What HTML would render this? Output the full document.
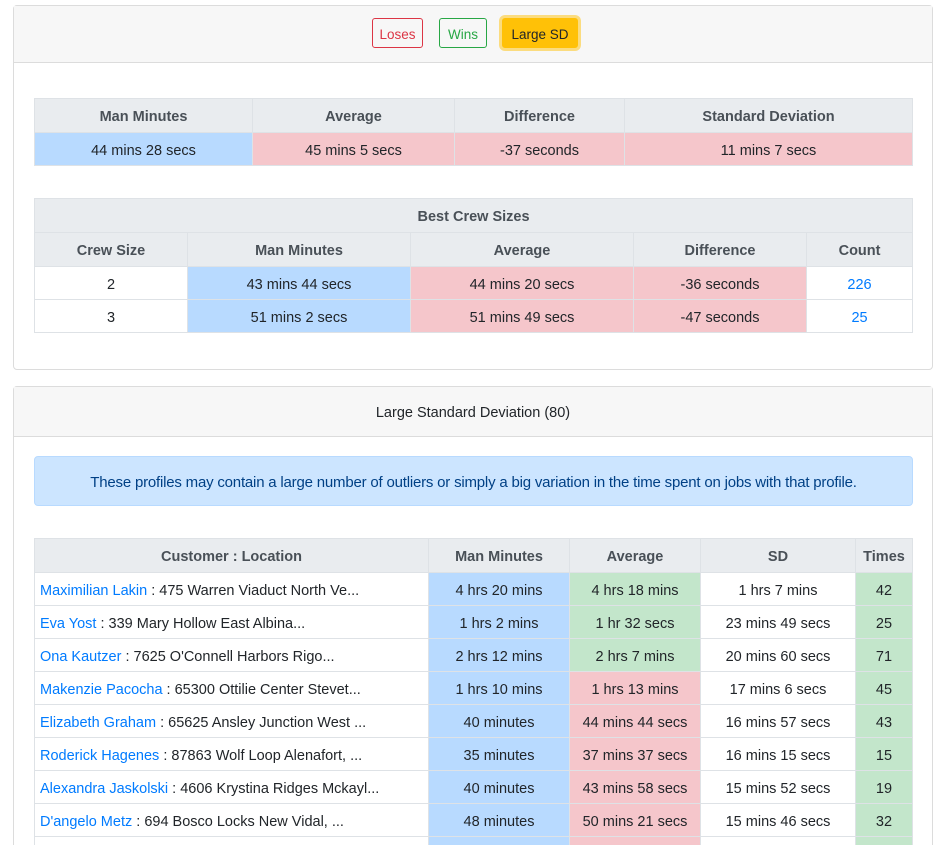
<!DOCTYPE html>
<html><head><meta charset="utf-8"><style>
*{box-sizing:border-box;margin:0;padding:0}
html,body{width:946px;height:845px;overflow:hidden}
body{background:#fff;font-family:"Liberation Sans","DejaVu Sans",sans-serif;font-size:14.5px;color:#212529;position:relative}
.card{position:absolute;left:13px;width:920px;border:1px solid #dcdcdc;border-radius:4px;background:#fff}
.ch{background:#f7f7f7;border-bottom:1px solid #dcdcdc;position:absolute;left:0;right:0;top:0}
.btn{position:absolute;top:12px;height:30px;border:1px solid;border-radius:3px;font-size:13.5px;line-height:31px;text-align:center}
table{position:absolute;left:34px;width:878px;border-collapse:collapse;table-layout:fixed}
td,th{border:1px solid #dee2e6;text-align:center;white-space:nowrap;overflow:hidden;height:33px;padding:3px 5px 0}
th{background:#e9ecef;color:#495057;font-weight:bold;height:34px}
.b{background:#b8daff}.p{background:#f5c6cb}.g{background:#c3e6cb}
a{color:#007bff;text-decoration:none}
td.l{text-align:left;padding-left:5px;text-overflow:clip}
tr.last td{height:9px;padding:0;border-bottom:none}
</style></head><body>
<div class="card" style="top:5px;height:365px">
 <div class="ch" style="height:57px"></div>
 <div class="btn" style="left:358px;width:51px;color:#dc3545;border-color:#dc3545">Loses</div>
 <div class="btn" style="left:425px;width:48px;color:#28a745;border-color:#28a745">Wins</div>
 <div class="btn" style="left:488px;width:76px;background:#ffc107;border-color:#ffc107;box-shadow:0 0 0 3px rgba(255,193,7,.5);color:#212529">Large SD</div>
</div>
<table style="top:98px">
<colgroup><col style="width:218px"><col style="width:202px"><col style="width:170px"><col style="width:288px"></colgroup>
<tr><th>Man Minutes</th><th>Average</th><th>Difference</th><th>Standard Deviation</th></tr>
<tr><td class="b">44 mins 28 secs</td><td class="p">45 mins 5 secs</td><td class="p">-37 seconds</td><td class="p">11 mins 7 secs</td></tr>
</table>
<table style="top:198px">
<colgroup><col style="width:153px"><col style="width:223px"><col style="width:223px"><col style="width:173px"><col style="width:106px"></colgroup>
<tr><th colspan="5">Best Crew Sizes</th></tr>
<tr><th>Crew Size</th><th>Man Minutes</th><th>Average</th><th>Difference</th><th>Count</th></tr>
<tr><td>2</td><td class="b">43 mins 44 secs</td><td class="p">44 mins 20 secs</td><td class="p">-36 seconds</td><td><a>226</a></td></tr>
<tr><td>3</td><td class="b">51 mins 2 secs</td><td class="p">51 mins 49 secs</td><td class="p">-47 seconds</td><td><a>25</a></td></tr>
</table>
<div class="card" style="top:386px;height:459px;border-bottom:none;border-radius:4px 4px 0 0">
 <div class="ch" style="height:50px;text-align:center;line-height:52px;font-size:14.5px">Large Standard Deviation (80)</div>
 <div style="position:absolute;left:20px;top:69px;width:879px;height:50px;background:#cce5ff;border:1px solid #b8daff;border-radius:4px;color:#004085;text-align:center;line-height:51px;font-size:15px;letter-spacing:-0.2px">These profiles may contain a large number of outliers or simply a big variation in the time spent on jobs with that profile.</div>
</div>
<table style="top:538px">
<colgroup><col style="width:394px"><col style="width:141px"><col style="width:131px"><col style="width:155px"><col style="width:57px"></colgroup>
<tr><th>Customer : Location</th><th>Man Minutes</th><th>Average</th><th>SD</th><th>Times</th></tr>
<tr><td class="l"><a>Maximilian Lakin</a> : 475 Warren Viaduct North Ve...</td><td class="b">4 hrs 20 mins</td><td class="g">4 hrs 18 mins</td><td>1 hrs 7 mins</td><td class="g">42</td></tr>
<tr><td class="l"><a>Eva Yost</a> : 339 Mary Hollow East Albina...</td><td class="b">1 hrs 2 mins</td><td class="g">1 hr 32 secs</td><td>23 mins 49 secs</td><td class="g">25</td></tr>
<tr><td class="l"><a>Ona Kautzer</a> : 7625 O'Connell Harbors Rigo...</td><td class="b">2 hrs 12 mins</td><td class="g">2 hrs 7 mins</td><td>20 mins 60 secs</td><td class="g">71</td></tr>
<tr><td class="l"><a>Makenzie Pacocha</a> : 65300 Ottilie Center Stevet...</td><td class="b">1 hrs 10 mins</td><td class="p">1 hrs 13 mins</td><td>17 mins 6 secs</td><td class="g">45</td></tr>
<tr><td class="l"><a>Elizabeth Graham</a> : 65625 Ansley Junction West ...</td><td class="b">40 minutes</td><td class="p">44 mins 44 secs</td><td>16 mins 57 secs</td><td class="g">43</td></tr>
<tr><td class="l"><a>Roderick Hagenes</a> : 87863 Wolf Loop Alenafort, ...</td><td class="b">35 minutes</td><td class="p">37 mins 37 secs</td><td>16 mins 15 secs</td><td class="g">15</td></tr>
<tr><td class="l"><a>Alexandra Jaskolski</a> : 4606 Krystina Ridges Mckayl...</td><td class="b">40 minutes</td><td class="p">43 mins 58 secs</td><td>15 mins 52 secs</td><td class="g">19</td></tr>
<tr><td class="l"><a>D'angelo Metz</a> : 694 Bosco Locks New Vidal, ...</td><td class="b">48 minutes</td><td class="p">50 mins 21 secs</td><td>15 mins 46 secs</td><td class="g">32</td></tr>
<tr class="last"><td class="l"></td><td class="b"></td><td class="p"></td><td></td><td class="g"></td></tr>
</table>
</body></html>
